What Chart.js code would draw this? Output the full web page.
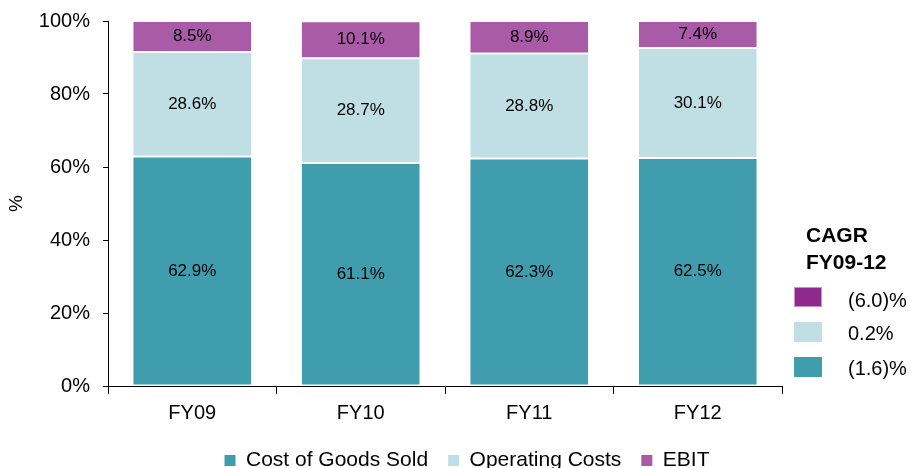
<!DOCTYPE html>
<html>
<head>
<meta charset="utf-8">
<script src="https://cdn.jsdelivr.net/npm/chart.js@4.4.1/dist/chart.umd.min.js"></script>
<style>
  html, body { margin: 0; padding: 0; background: #fff; overflow: hidden; }
  #wrap { position: relative; width: 918px; height: 468px; overflow: hidden; }
  #box { position: absolute; left: 0; top: 0; width: 918px; height: 481px; }
  .cagr { position: absolute; font-family: "Liberation Sans", Arial, sans-serif; color: #000; }
  .cagr-title { left: 806px; top: 221px; font-size: 21px; font-weight: bold; line-height: 27px; }
  .sw { position: absolute; left: 794px; width: 28px; height: 20px; box-sizing: border-box; }
  .lbl { position: absolute; left: 848px; font-size: 20px; line-height: 20px; }
</style>
</head>
<body>
<div id="wrap">
  <div id="box"><canvas id="c" width="918" height="481"></canvas></div>
  <div class="cagr cagr-title">CAGR<br>FY09-12</div>
  <div class="cagr sw" style="top:287px;background:#8E2A8E;border:1px solid #C98FC9;"></div>
  <div class="cagr lbl" style="top:290px;">(6.0)%</div>
  <div class="cagr sw" style="top:322px;background:#BFDFE4;"></div>
  <div class="cagr lbl" style="top:323px;">0.2%</div>
  <div class="cagr sw" style="top:357px;background:#3F9DAE;"></div>
  <div class="cagr lbl" style="top:358px;">(1.6)%</div>
</div>
<script>
// Cost structure as a share of revenue, by fiscal year
const years = ['FY09', 'FY10', 'FY11', 'FY12'];
const cogs = [62.9, 61.1, 62.3, 62.5];
const operatingCosts = [28.6, 28.7, 28.8, 30.1];
const ebit = [8.5, 10.1, 8.9, 7.4];
const yTicks = [0, 20, 40, 60, 80, 100];

const FONT = '"Liberation Sans", Arial, sans-serif';

// Writes each segment's value in the middle of its bar
const valueLabels = {
  id: 'valueLabels',
  afterDatasetsDraw(chart) {
    const ctx = chart.ctx;
    ctx.save();
    ctx.font = '17px ' + FONT;
    ctx.fillStyle = '#000';
    ctx.textAlign = 'center';
    ctx.textBaseline = 'middle';
    chart.data.datasets.forEach((ds, i) => {
      chart.getDatasetMeta(i).data.forEach((bar, j) => {
        const y = (bar.y + bar.base) / 2;
        ctx.fillText(ds.data[j].toFixed(1) + '%', bar.x, y);
      });
    });
    ctx.restore();
  }
};

new Chart(document.getElementById('c'), {
  type: 'bar',
  data: {
    labels: years,
    datasets: [
      { label: 'Cost of Goods Sold', data: cogs, backgroundColor: '#3F9DAE' },
      { label: 'Operating Costs', data: operatingCosts, backgroundColor: '#BFDFE4' },
      { label: 'EBIT', data: ebit, backgroundColor: '#A95BA8' }
    ].map(d => Object.assign(d, {
      borderColor: '#fff',
      borderWidth: { top: 1, bottom: 1, left: 0, right: 0 },
      borderSkipped: false,
      categoryPercentage: 1.0,
      barPercentage: 0.7
    }))
  },
  options: {
    responsive: false,
    animation: false,
    layout: { padding: { top: 21, right: 0, left: 16, bottom: 0 } },
    plugins: {
      tooltip: { enabled: false },
      legend: {
        position: 'bottom',
        labels: {
          font: { family: FONT, size: 21 },
          color: '#000',
          boxWidth: 11,
          boxHeight: 11,
          padding: 20,
          generateLabels(chart) {
            return chart.data.datasets.map((ds, i) => ({
              text: ds.label,
              fillStyle: ds.backgroundColor,
              strokeStyle: ds.backgroundColor,
              lineWidth: 0,
              datasetIndex: i,
              hidden: false
            }));
          }
        }
      }
    },
    scales: {
      x: {
        stacked: true,
        afterFit(scale) { scale.height = 44; },
        grid: { drawOnChartArea: false, offset: true, tickLength: 8, color: '#000' },
        border: { display: true, color: '#000', width: 1 },
        ticks: { font: { family: FONT, size: 20 }, color: '#000', padding: 7 }
      },
      y: {
        stacked: true,
        min: 0,
        max: 100,
        afterFit(scale) {
          scale.width = 92;
          scale.paddingTop = 0;
          scale.paddingBottom = 0;
        },
        afterBuildTicks(scale) { scale.ticks = yTicks.map(v => ({ value: v })); },
        grid: { drawOnChartArea: false, tickLength: 5, color: '#000' },
        border: { display: true, color: '#000', width: 1 },
        ticks: {
          font: { family: FONT, size: 20 },
          color: '#000',
          padding: 13,
          callback: v => v + '%'
        },
        title: { display: true, text: '%', font: { family: FONT, size: 19 }, color: '#000', padding: { top: -11, bottom: 0 } }
      },
      // empty band on the right that holds the CAGR key
      side: {
        position: 'right',
        display: true,
        afterFit(scale) {
          scale.width = 136;
          scale.paddingTop = 0;
          scale.paddingBottom = 0;
        },
        grid: { display: false, drawTicks: false },
        border: { display: false },
        ticks: { display: false }
      }
    }
  },
  plugins: [valueLabels]
});
</script>
</body>
</html>
